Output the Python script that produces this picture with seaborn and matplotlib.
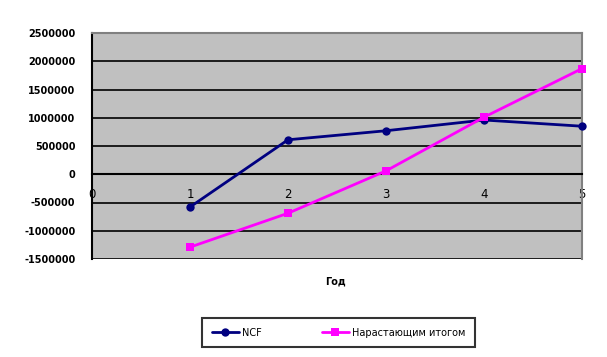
import matplotlib
matplotlib.use("Agg")
import matplotlib.pyplot as plt
import seaborn as sns
import pandas as pd
from matplotlib.lines import Line2D

years = [1, 2, 3, 4, 5]
ncf = [-580000, 610000, 770000, 960000, 850000]
cumulative = [-1290000, -690000, 60000, 1010000, 1870000]
series_names = ["NCF", "Нарастающим итогом"]
y_ticks = [-1500000, -1000000, -500000, 0, 500000, 1000000, 1500000, 2000000, 2500000]
x_ticks = [0, 1, 2, 3, 4, 5]

sns.set_style("white")
plt.rcParams["font.family"] = ["DejaVu Sans"]
plt.rcParams["text.color"] = "black"
plt.rcParams["xtick.color"] = "black"
plt.rcParams["ytick.color"] = "black"

df = pd.DataFrame({
    "Год": years * 2,
    "value": ncf + cumulative,
    "series": [series_names[0]] * len(years) + [series_names[1]] * len(years),
})

fig = plt.figure(figsize=(6.07, 3.57), dpi=100)
ax = fig.add_axes([92 / 607, 1 - 259 / 357, 490 / 607, 226 / 357])
ax.set_facecolor("#C0C0C0")

sns.lineplot(data=df, x="Год", y="value", hue="series", style="series",
             palette={series_names[0]: "#000080", series_names[1]: "#FF00FF"},
             markers={series_names[0]: "o", series_names[1]: "s"},
             dashes=False, linewidth=2, markersize=6, markeredgewidth=0,
             ax=ax, legend=False, zorder=3, clip_on=False)

ax.set_xlim(0, 5)
ax.set_ylim(-1500000, 2500000)
ax.set_yticks(y_ticks)
ax.set_yticklabels([str(v) for v in y_ticks], fontweight="bold")
ax.set_xticks(x_ticks)
ax.set_xticklabels([str(v) for v in x_ticks])
ax.yaxis.grid(True, color="black", linewidth=1.2)
ax.set_axisbelow(True)

for side in ["top", "right"]:
    ax.spines[side].set_color("#808080")
    ax.spines[side].set_linewidth(1.5)
ax.spines["left"].set_color("black")
ax.spines["left"].set_linewidth(1.5)
ax.spines["bottom"].set_position(("data", 0))
ax.spines["bottom"].set_color("black")
ax.spines["bottom"].set_linewidth(1.5)

ax.tick_params(axis="y", direction="out", length=4, width=1.2, pad=8, labelsize=7)
ax.tick_params(axis="x", direction="out", length=3, width=1.2, pad=7, labelsize=8.5)

ax.set_xlabel("")
ax.set_ylabel("")
fig.text(335 / 607, 1 - 281 / 357, "Год", fontsize=7, fontweight="bold",
         ha="center", va="center")

handles = [
    Line2D([], [], color="#000080", marker="o", linewidth=2, markersize=6, markeredgewidth=0),
    Line2D([], [], color="#FF00FF", marker="s", linewidth=2, markersize=6, markeredgewidth=0),
]
leg = fig.legend(handles, series_names, loc="center", ncol=2,
                 bbox_to_anchor=(338.5 / 607, 1 - 332.5 / 357),
                 fontsize=7, frameon=True, fancybox=False, handlelength=2.8,
                 columnspacing=6.2, borderpad=1.0, handletextpad=0.3,
                 borderaxespad=0)
leg.get_frame().set_edgecolor("black")
leg.get_frame().set_linewidth(1.5)
leg.get_frame().set_boxstyle("square", pad=0)

fig.savefig("out.png", dpi=100)
